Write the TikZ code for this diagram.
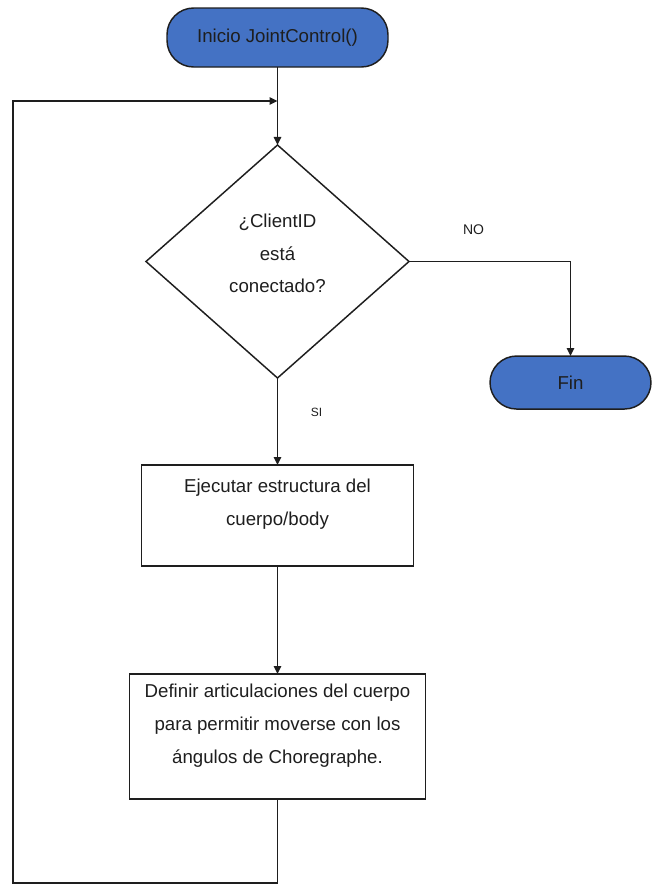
\documentclass[tikz,border=0pt]{standalone}
\usepackage{fontspec}
\setmainfont{Liberation Sans}
\usetikzlibrary{arrows.meta,positioning,shapes.geometric}
\definecolor{termblue}{RGB}{68,114,196}
\definecolor{ink}{RGB}{30,30,30}

\begin{document}
\begin{tikzpicture}
[x=0.75pt, y=-0.75pt, >={Triangle[length=6pt,width=5.5pt]},
line width=1.1pt, draw=ink,
every node/.style={font=\fontsize{14}{24.5}\selectfont, text=ink, outer sep=0pt},
terminal/.style={draw=ink, fill=termblue, rounded corners=20pt, minimum height=44.25pt},
decision/.style={draw=ink, diamond, inner sep=0pt, minimum width=197.25pt, minimum height=174.75pt, align=center, text depth=12pt},
process/.style={draw=ink, align=center, inner ysep=0pt},
tag/.style={inner sep=0pt, font=\fontsize{10.5}{12}\selectfont}
]
  \useasboundingbox (0,0) rectangle (652,886);

  \node[terminal, minimum width=165.75pt] (start) at (277.5,37.5) {Inicio JointControl()};
  \node[decision, below=58.5pt of start] (check) {¿ClientID\\está\\conectado?};
  \node[process, minimum width=204pt, text height=45pt, text depth=30.75pt,
        below=65.25pt of check] (body) {Ejecutar estructura del\\cuerpo/body};
  \node[process, minimum width=222pt, text height=66.75pt, text depth=27pt,
        below=81pt of body] (joints) {Definir articulaciones del cuerpo\\para permitir moverse con los\\ángulos de Choregraphe.};
  \node[terminal, minimum width=120.75pt, minimum height=39.75pt,
        below right=70.9pt and 60.75pt of check.east] (fin) {Fin};

  \coordinate[above=33pt of check.north] (merge);
  \coordinate[below=63pt of joints.south] (loopdown);
  \coordinate (loopx) at (13,0);

  \draw[->] (start) -- (check);
  \draw[->] (check.east) -| node[tag, pos=0.2, above=20pt] {NO} (fin.north);
  \draw[->] (check) -- node[tag, pos=0.4, right=25pt, font=\fontsize{9}{11}\selectfont] {SI} (body);
  \draw[->] (body) -- (joints);
  \draw[->] (joints) -- (loopdown) -- (loopdown -| loopx) |- (merge);
\end{tikzpicture}
\end{document}
